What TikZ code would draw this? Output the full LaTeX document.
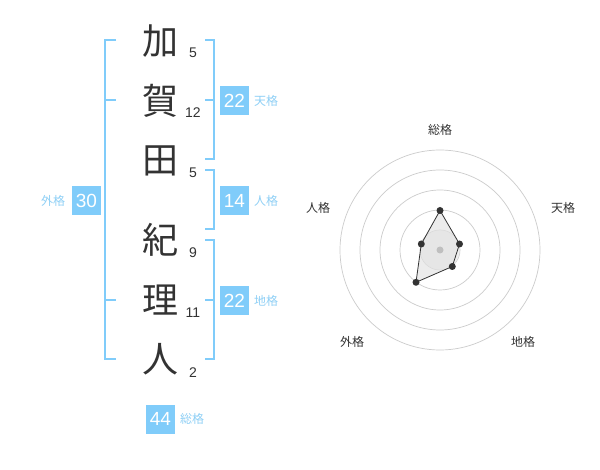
\documentclass[tikz,border=0pt]{standalone}
\usepackage{fontspec}
\setmainfont{Liberation Sans}
\newfontfamily\jp{Noto Sans CJK JP}
\definecolor{brk}{HTML}{80CCFA}
\definecolor{lbl}{HTML}{8FD0F6}
\definecolor{ink}{HTML}{333333}
\definecolor{ring}{HTML}{CCCCCC}
\begin{document}
\begin{tikzpicture}[x=1pt,y=-1pt,
  bigchar/.style={font=\jp\fontsize{36}{36}\selectfont, text=ink, inner sep=0pt},
  strokes/.style={font=\fontsize{14}{14}\selectfont, text=ink, inner sep=0pt},
  valbox/.style={fill=brk, text=white, minimum width=29pt, minimum height=29pt, inner sep=0pt, font=\fontsize{19}{19}\selectfont},
  kaku/.style={font=\jp\fontsize{12}{12}\selectfont, text=lbl, inner sep=0pt},
  bracket/.style={draw=brk, line width=2pt},
  radlbl/.style={font=\jp\fontsize{12}{12}\selectfont, text=ink, inner sep=0pt},
  ringline/.style={draw=ring, line width=0.7pt},
  pt/.style={circle, fill=ink, minimum size=7pt, inner sep=0pt}]
\useasboundingbox (0,0) rectangle (600,470);
\fill[white] (0,0) rectangle (600,470);
% characters
\node[bigchar] (c1) at (160,41) {加};
\node[bigchar] (c2) at (160,101) {賀};
\node[bigchar] (c3) at (160,161) {田};
\node[bigchar] (c4) at (160,240) {紀};
\node[bigchar] (c5) at (160,300) {理};
\node[bigchar] (c6) at (160,359) {人};
% stroke counts
\node[strokes] (s1) at (193,53) {5};
\node[strokes] (s2) at (193,113) {12};
\node[strokes] (s3) at (193,173) {5};
\node[strokes] (s4) at (193,253) {9};
\node[strokes] (s5) at (193,313) {11};
\node[strokes] (s6) at (193,373) {2};
% brackets
\draw[bracket] (116,40) -- (105,40) -- (105,359) -- (116,359);
\draw[bracket] (105,100) -- (116,100);
\draw[bracket] (105,300) -- (116,300);
\draw[bracket] (205,40) -- (214,40) -- (214,159) -- (205,159);
\draw[bracket] (205,100) -- (214,100);
\draw[bracket] (205,170) -- (214,170) -- (214,229) -- (205,229);
\draw[bracket] (205,240) -- (214,240) -- (214,359) -- (205,359);
\draw[bracket] (205,300) -- (214,300);
% value boxes
\node[valbox] (ten) at (234.5,100.5) {22};
\node[kaku] (tenl) at (266,101) {天格};
\node[valbox] (jin) at (234.5,200.5) {14};
\node[kaku] (jinl) at (266,201) {人格};
\node[valbox] (chi) at (234.5,300.5) {22};
\node[kaku] (chil) at (266,301) {地格};
\node[valbox] (gai) at (86.5,200.5) {30};
\node[kaku] (gail) at (53,201) {外格};
\node[valbox] (sou) at (160.5,419) {44};
\node[kaku] (soul) at (192,419) {総格};
% radar
\foreach \r in {20,40,60,80,100} \draw[ringline] (440,250) circle[radius=\r];
\fill[black!10, opacity=0.6] (440,250) circle[radius=20];
\coordinate (rs) at (440,210.5);
\coordinate (rt) at (459.5,244);
\coordinate (rc) at (452.3,266.5);
\coordinate (rg) at (416,282.3);
\coordinate (rj) at (421.3,244);
\filldraw[fill=black!12, fill opacity=0.6, draw=ink, line width=0.8pt] (rs) -- (rt) -- (rc) -- (rg) -- (rj) -- cycle;
\foreach \p in {rs,rt,rc,rg,rj} \node[pt] at (\p) {};
\node[circle, fill=black!25, minimum size=7pt, inner sep=0pt] (ctr) at (440,250) {};
\node[radlbl] (ls) at (440,130) {総格};
\node[radlbl] (lt) at (563,208) {天格};
\node[radlbl] (lc) at (523,342) {地格};
\node[radlbl] (lg) at (352,342) {外格};
\node[radlbl] (lj) at (318,208) {人格};
\end{tikzpicture}
\end{document}
